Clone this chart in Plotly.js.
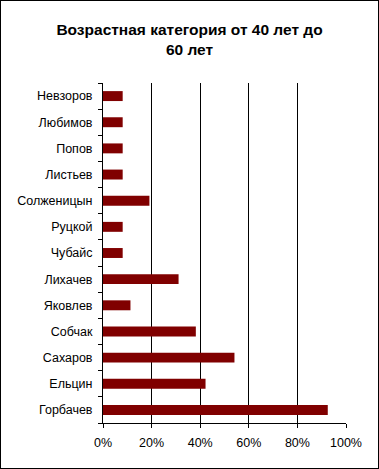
<!DOCTYPE html>
<html>
<head>
<meta charset="utf-8">
<script src="https://cdn.plot.ly/plotly-3.0.1.min.js"></script>
<style>
html,body{margin:0;padding:0;background:#fff;}
#chart{width:377px;height:467px;border:1px solid #000;}
</style>
</head>
<body>
<div id="chart"></div>
<script>
// Categories listed bottom to top
const names = ["Горбачев","Ельцин","Сахаров","Собчак","Яковлев","Лихачев","Чубайс","Руцкой","Солженицын","Листьев","Попов","Любимов","Невзоров"];
const shares = [92.5, 42.2, 54.1, 38.2, 11.3, 31.1, 8.1, 8.1, 19.1, 8.1, 8.1, 8.1, 8.1];
const xTickVals = [0, 20, 40, 60, 80, 100];
const titleText = "Возрастная категория от 40 лет до<br>60 лет";

const font = "Liberation Sans, Arial, sans-serif";

const trace = {
  type: "bar",
  orientation: "h",
  y: names,
  x: shares,
  marker: {color: "#800000", line: {width: 0}},
  hoverinfo: "x+y"
};

const layout = {
  width: 377,
  height: 467,
  margin: {l: 102, r: 32, t: 82, b: 45, pad: 0},
  paper_bgcolor: "#fff",
  plot_bgcolor: "#fff",
  font: {family: font, size: 12, color: "#000"},
  showlegend: false,
  bargap: 0.62,
  title: {
    text: "<b>" + titleText + "</b>",
    font: {family: font, size: 15.5, color: "#000"},
    x: 0.5,
    xanchor: "center",
    xref: "container",
    y: 1 - 34/467,
    yref: "container",
    yanchor: "top"
  },
  xaxis: {
    range: [0, 100.001],
    tickvals: xTickVals,
    ticktext: xTickVals.map(v => v + "%"),
    showgrid: true,
    gridcolor: "#000",
    gridwidth: 1,
    zeroline: false,
    showline: true,
    linecolor: "#000",
    linewidth: 1,
    ticks: "outside",
    ticklen: 4,
    tickcolor: "#000",
    ticklabelstandoff: 4,
    tickfont: {family: font, size: 12.5, color: "#000"},
    fixedrange: true
  },
  yaxis: {
    type: "category",
    categoryorder: "array",
    categoryarray: names,
    showgrid: false,
    zeroline: false,
    showline: true,
    linecolor: "#000",
    linewidth: 1,
    ticks: "outside",
    tickson: "boundaries",
    ticklen: 4,
    tickcolor: "#000",
    ticklabelstandoff: 7,
    tickfont: {family: font, size: 12.5, color: "#000"},
    fixedrange: true
  }
};

Plotly.newPlot("chart", [trace], layout, {displayModeBar: false, staticPlot: true});
</script>
</body>
</html>
